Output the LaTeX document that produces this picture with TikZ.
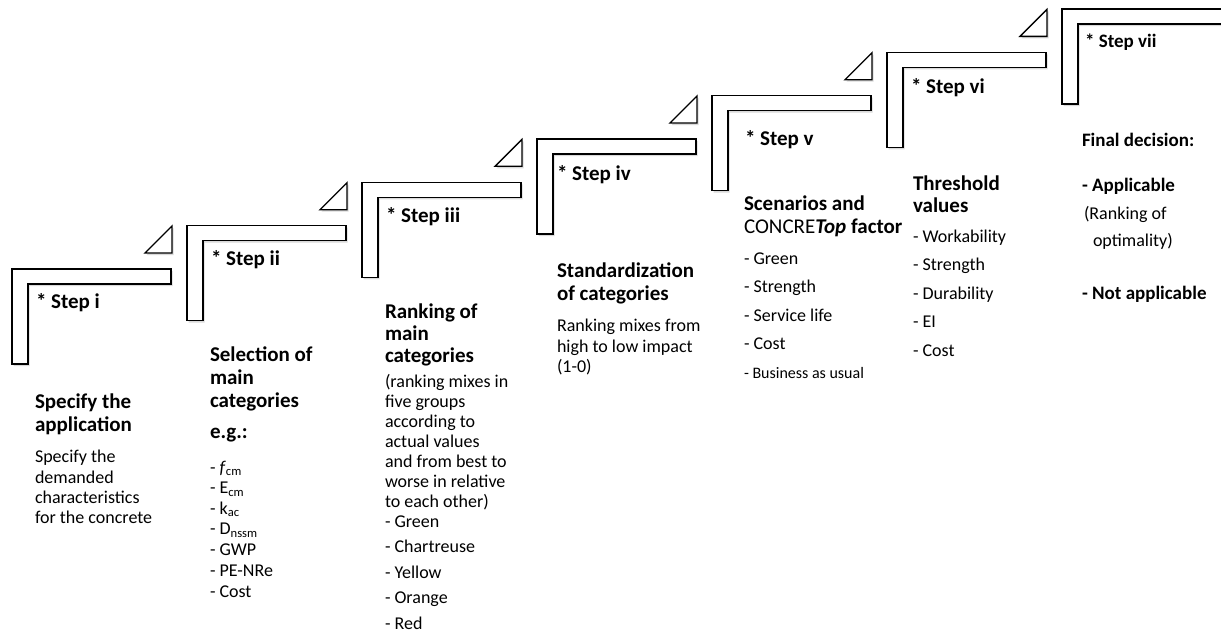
\documentclass[tikz,border=0pt]{standalone}
\usepackage{fontspec}
\setmainfont{Carlito}
\usetikzlibrary{shadows}
\newcommand\fHead{\fontsize{21}{23}\selectfont\bfseries}
\newcommand\fBody{\fontsize{18}{20}\selectfont}
\newcommand\fBiz{\fontsize{16}{18}\selectfont}
\newcommand\fSev{\fontsize{19}{21}\selectfont\bfseries}
\begin{document}
\begin{tikzpicture}[x=1pt,y=-1pt,
  lbar/.style={draw=black, line width=1.3pt, fill=white, line join=miter,
    drop shadow={shadow xshift=1.5pt, shadow yshift=-2pt, opacity=0.3}},
  txt/.style={anchor=base west, inner sep=0pt, outer sep=0pt},
  hd/.style={txt, font=\fHead},
  bd/.style={txt, font=\fBody},
  sv/.style={txt, font=\fSev}]
\useasboundingbox (0,0) rectangle (1221,632);
% staircase brackets
\foreach \k in {0,...,6} {
  \pgfmathsetmacro\xo{12+175*\k}
  \pgfmathsetmacro\yo{269-43.33*\k}
  \pgfmathsetmacro\bw{\k==6 ? 170 : 159}
  \draw[lbar] (\xo,\yo) -- ++(\bw,0) -- ++(0,15) -- ++(-\bw+16,0) -- ++(0,80) -- ++(-16,0) -- cycle;
}
% small triangles
\foreach \k in {0,...,5} {
  \pgfmathsetmacro\xo{12+175*\k}
  \pgfmathsetmacro\yo{269-43.33*\k}
  \draw[lbar] (\xo+160,\yo-16) -- ++(0,-27) -- ++(-27,27) -- cycle;
}
% step labels
\node[hd] (s1) at (36,308) {* Step i};
\node[hd] (s2) at (211,265) {* Step ii};
\node[hd] (s3) at (386,222) {* Step iii};
\node[hd] (s4) at (557,180) {* Step iv};
\node[hd] (s5) at (745,145) {* Step v};
\node[hd] (s6) at (911,93) {* Step vi};
\node[sv] (s7) at (1085,47) {* Step vii};
% column i
\node[hd] (h1a) at (35,408) {Specify the};
\node[hd] (h1b) at (35,431) {application};
\node[bd] (b1a) at (35,462) {Specify the};
\node[bd] (b1b) at (35,483) {demanded};
\node[bd] (b1c) at (35,503) {characteristics};
\node[bd] (b1d) at (35,523) {for the concrete};
% column ii
\node[hd] (h2a) at (210,361) {Selection of};
\node[hd] (h2b) at (210,384) {main};
\node[hd] (h2c) at (210,407) {categories};
\node[hd] (h2d) at (210,438) {e.g.:};
\node[bd] (b2a) at (210,473) {- \textit{f}\textsubscript{cm}};
\node[bd] (b2b) at (210,493.5) {- E\textsubscript{cm}};
\node[bd] (b2c) at (210,514) {- k\textsubscript{ac}};
\node[bd] (b2d) at (210,534.5) {- D\textsubscript{nssm}};
\node[bd] (b2e) at (210,555) {- GWP};
\node[bd] (b2f) at (210,576) {- PE-NRe};
\node[bd] (b2g) at (210,597) {- Cost};
% column iii
\node[hd] (h3a) at (385,318) {Ranking of};
\node[hd] (h3b) at (385,340) {main};
\node[hd] (h3c) at (385,362) {categories};
\node[bd] (b3a) at (385,387) {(ranking mixes in};
\node[bd] (b3b) at (385,407) {five groups};
\node[bd] (b3c) at (385,427) {according to};
\node[bd] (b3d) at (385,447) {actual values};
\node[bd] (b3e) at (385,467) {and from best to};
\node[bd] (b3f) at (385,487) {worse in relative};
\node[bd] (b3g) at (385,507) {to each other)};
\node[bd] (b3h) at (385,527) {- Green};
\node[bd] (b3i) at (385,552.5) {- Chartreuse};
\node[bd] (b3j) at (385,578) {- Yellow};
\node[bd] (b3k) at (385,603.5) {- Orange};
\node[bd] (b3l) at (385,629) {- Red};
% column iv
\node[hd] (h4a) at (557,277) {Standardization};
\node[hd] (h4b) at (557,300) {of categories};
\node[bd] (b4a) at (557,331) {Ranking mixes from};
\node[bd] (b4b) at (557,352) {high to low impact};
\node[bd] (b4c) at (557,372) {(1-0)};
% column v
\node[hd] (h5a) at (744,210) {Scenarios and};
\node[txt, font=\fontsize{21}{23}\selectfont] (h5b) at (744,233) {CONCRE\textbf{\textit{Top}} \textbf{factor}};
\node[bd] (b5a) at (744,264) {- Green};
\node[bd] (b5b) at (744,292.5) {- Strength};
\node[bd] (b5c) at (744,321) {- Service life};
\node[bd] (b5d) at (744,349.5) {- Cost};
\node[txt, font=\fBiz] (b5e) at (744,378) {- Business as usual};
% column vi
\node[hd] (h6a) at (913,190) {Threshold};
\node[hd] (h6b) at (913,212) {values};
\node[bd] (b6a) at (913,242) {- Workability};
\node[bd] (b6b) at (913,270.5) {- Strength};
\node[bd] (b6c) at (913,299) {- Durability};
\node[bd] (b6d) at (913,327.5) {- EI};
\node[bd] (b6e) at (913,356) {- Cost};
% column vii
\node[sv] (h7a) at (1082,146) {Final decision:};
\node[sv] (h7b) at (1082,191) {- Applicable};
\node[bd] (b7a) at (1084,219) {(Ranking of};
\node[bd] (b7b) at (1093,246) {optimality)};
\node[sv] (h7c) at (1082,299) {- Not applicable};
\end{tikzpicture}
\end{document}
